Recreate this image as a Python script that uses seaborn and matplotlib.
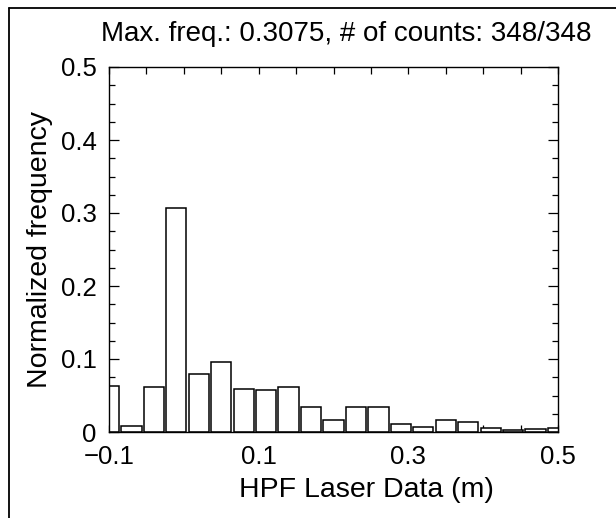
import numpy as np
import pandas as pd
import matplotlib
matplotlib.use("Agg")
import matplotlib.pyplot as plt
import seaborn as sns
from matplotlib.ticker import MultipleLocator, FixedLocator, FixedFormatter

# Data
bin_centers = [-0.10, -0.07, -0.04, -0.01, 0.02, 0.05, 0.08, 0.11, 0.14, 0.17,
               0.20, 0.23, 0.26, 0.29, 0.32, 0.35, 0.38, 0.41, 0.44, 0.47, 0.50]
norm_freq = [0.063, 0.008, 0.062, 0.3075, 0.079, 0.096, 0.059, 0.057, 0.062, 0.034,
             0.017, 0.034, 0.034, 0.011, 0.007, 0.016, 0.014, 0.006, 0.003, 0.004, 0.006]
x_tick_vals = [-0.1, 0.1, 0.3, 0.5]
x_tick_labels = ["\u22120.1", "0.1", "0.3", "0.5"]
y_tick_vals = [0, 0.1, 0.2, 0.3, 0.4, 0.5]
y_tick_labels = ["0", "0.1", "0.2", "0.3", "0.4", "0.5"]

sns.set_theme(style="white")
plt.rcParams['font.family'] = ['Liberation Sans', 'DejaVu Sans']

df = pd.DataFrame({"x": bin_centers, "y": norm_freq})

W, H = 616, 518
fig = plt.figure(figsize=(W / 100, H / 100), dpi=100)
ax = fig.add_axes([109 / W, 1 - 432 / H, (558 - 109) / W, (432 - 67) / H])

sns.barplot(data=df, x="x", y="y", native_scale=True, width=0.9,
            color="white", edgecolor="black", linewidth=1.1, ax=ax,
            errorbar=None, saturation=1)

ax.set_xlim(-0.1, 0.5)
ax.set_ylim(0, 0.5)

ax.xaxis.set_major_locator(FixedLocator(x_tick_vals))
ax.xaxis.set_major_formatter(FixedFormatter(x_tick_labels))
ax.xaxis.set_minor_locator(MultipleLocator(0.05))
ax.yaxis.set_major_locator(FixedLocator(y_tick_vals))
ax.yaxis.set_major_formatter(FixedFormatter(y_tick_labels))
ax.yaxis.set_minor_locator(MultipleLocator(0.025))

ax.tick_params(axis="both", which="both", direction="in", top=True, right=True,
               bottom=True, left=True, color="black", width=0.9)
ax.tick_params(axis="y", which="major", length=7, labelsize=18.5, pad=9)
ax.tick_params(axis="y", which="minor", length=4)
ax.tick_params(axis="x", which="major", length=5, labelsize=18.5, pad=9.5)
ax.tick_params(axis="x", which="minor", length=5)

for sp in ax.spines.values():
    sp.set_visible(True)
    sp.set_color("black")
    sp.set_linewidth(1.0)

ax.set_xlabel("HPF Laser Data (m)", fontsize=20.5, color="black")
ax.set_ylabel("Normalized frequency", fontsize=20.5, color="black")
ax.xaxis.label.set_va("center")
ax.yaxis.label.set_va("center")
ax.xaxis.set_label_coords((366 - 109) / 449, (432 - 490) / 365)
ax.yaxis.set_label_coords((40 - 109) / 449, 0.5)
for lbl in ax.get_xticklabels() + ax.get_yticklabels():
    lbl.set_color("black")

fig.text(346 / W, 1 - 41 / H, "Max. freq.: 0.3075, # of counts: 348/348",
         ha="center", va="baseline", fontsize=20, color="black")

# outer frame (left and top edges visible in the reference)
fig.add_artist(plt.Line2D([9 / W, 9 / W], [0, 1 - 8 / H], transform=fig.transFigure,
                          color="black", linewidth=1.3))
fig.add_artist(plt.Line2D([9 / W, 1], [1 - 8 / H, 1 - 8 / H], transform=fig.transFigure,
                          color="black", linewidth=1.3))

fig.savefig("out.png", dpi=100, facecolor="white")
